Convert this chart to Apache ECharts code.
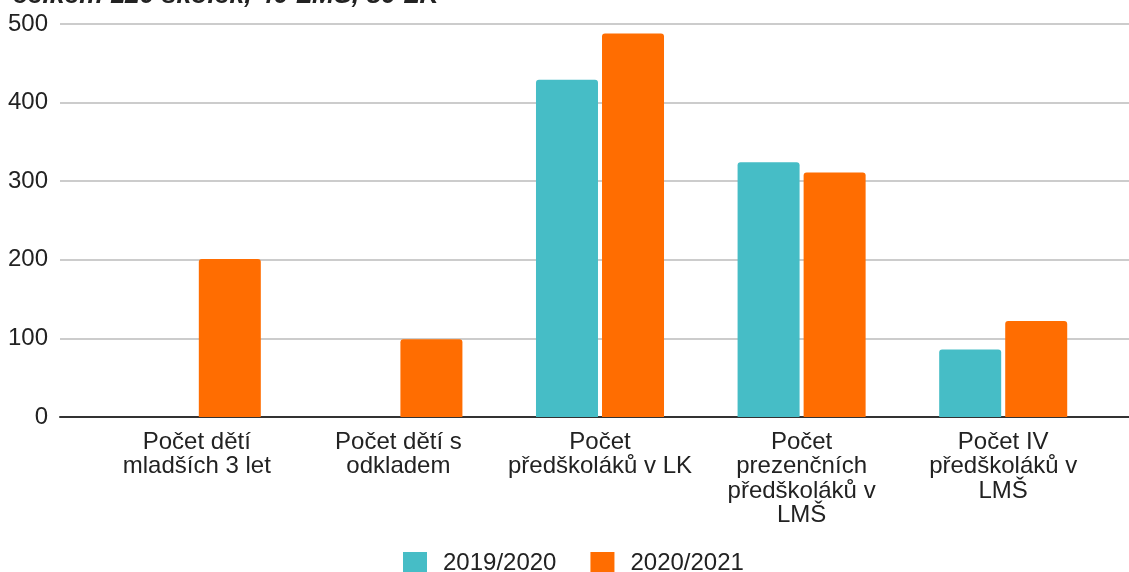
<!DOCTYPE html>
<html>
<head>
<meta charset="utf-8">
<script src="https://cdn.jsdelivr.net/npm/echarts@6/dist/echarts.min.js"></script>
<style>
html,body{margin:0;padding:0;background:#fff;}
#chart{width:1129px;height:572px;}
</style>
</head>
<body>
<div id="chart"></div>
<script>
var titleText = 'celkem 120 školek, 40 LMŠ, 80 LK';
var categories = [
  'Počet dětí\nmladších 3 let',
  'Počet dětí s\nodkladem',
  'Počet\npředškoláků v LK',
  'Počet\nprezenčních\npředškoláků v\nLMŠ',
  'Počet IV\npředškoláků v\nLMŠ'
];
var seriesNames = ['2019/2020', '2020/2021'];
var values2019 = [0, 0, 429, 324, 86];
var values2020 = [201, 99, 488, 311, 122];
var yTicks = { min: 0, max: 500, interval: 100 };

var FONT = '"Liberation Sans", Arial, sans-serif';
var chart = echarts.init(document.getElementById('chart'), null, {renderer: 'canvas'});
var option = {
  backgroundColor: '#ffffff',
  animation: false,
  title: {
    text: titleText,
    left: 8,
    top: -23,
    textStyle: {fontFamily: FONT, fontSize: 26.5, fontStyle: 'italic', fontWeight: 'bold', color: '#222'}
  },
  legend: {
    data: seriesNames,
    left: 403,
    top: 551,
    padding: 0,
    itemWidth: 24,
    itemHeight: 22,
    itemGap: 34,
    icon: 'rect',
    textStyle: {fontFamily: FONT, fontSize: 24, color: '#222', padding: [0, 0, 0, 11]}
  },
  grid: [
    {left: 96, right: 25, top: 24, bottom: 155},
    {left: 60, right: 0, top: 24, bottom: 155}
  ],
  xAxis: [
    {
      gridIndex: 0,
      type: 'category',
      data: categories,
      axisLine: {show: false},
      axisTick: {show: false},
      axisLabel: {fontFamily: FONT, fontSize: 24, color: '#222', lineHeight: 24.5, margin: 13, interval: 0}
    },
    {
      gridIndex: 1,
      type: 'value',
      min: 0, max: 1,
      axisLine: {show: true, onZero: false, lineStyle: {color: '#333', width: 2}},
      axisTick: {show: false},
      axisLabel: {show: false},
      splitLine: {show: false}
    }
  ],
  yAxis: [
    {
      gridIndex: 0,
      type: 'value',
      min: yTicks.min, max: yTicks.max, interval: yTicks.interval,
      show: false,
      splitLine: {show: false}
    },
    {
      gridIndex: 1,
      type: 'value',
      min: yTicks.min, max: yTicks.max, interval: yTicks.interval,
      axisLine: {show: false},
      axisTick: {show: false},
      axisLabel: {fontFamily: FONT, fontSize: 24, color: '#222', margin: 12},
      splitLine: {lineStyle: {color: '#cccccc', width: 2}}
    }
  ],
  series: [
    {
      name: seriesNames[0],
      type: 'bar',
      xAxisIndex: 0, yAxisIndex: 0,
      data: values2019,
      barWidth: 62,
      barGap: '6.5%',
      itemStyle: {color: '#46BDC6', borderRadius: [3, 3, 0, 0]}
    },
    {
      name: seriesNames[1],
      type: 'bar',
      xAxisIndex: 0, yAxisIndex: 0,
      data: values2020,
      barWidth: 62,
      barGap: '6.5%',
      itemStyle: {color: '#FF6D01', borderRadius: [3, 3, 0, 0]}
    }
  ]
};
chart.setOption(option);
</script>
</body>
</html>
